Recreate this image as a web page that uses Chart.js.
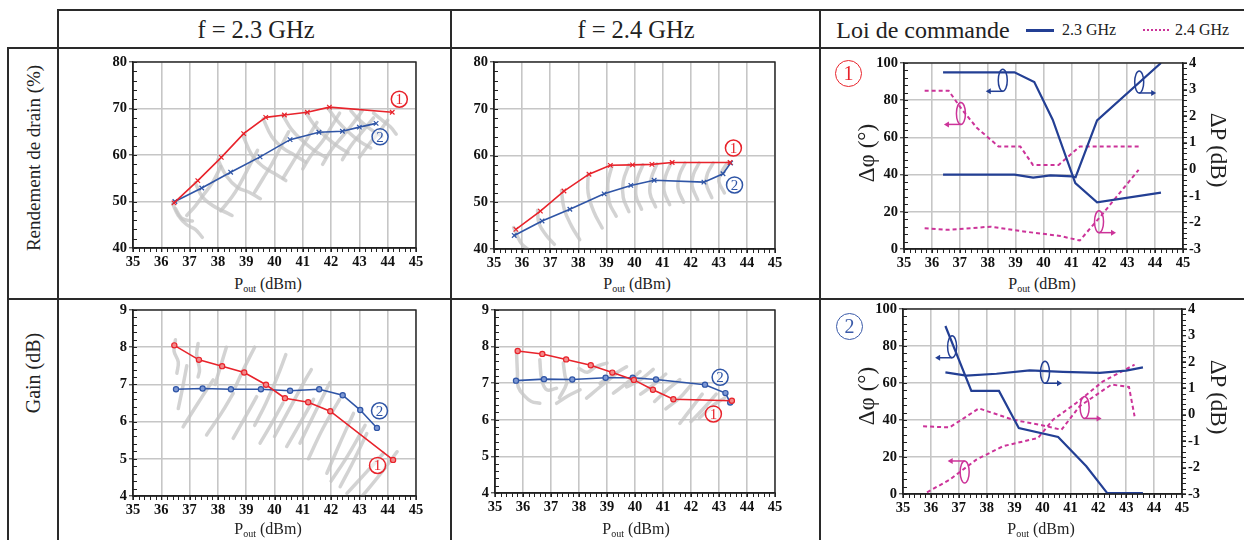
<!DOCTYPE html>
<html>
<head>
<meta charset="utf-8">
<script src="https://cdn.jsdelivr.net/npm/chart.js@4.4.1/dist/chart.umd.min.js"></script>
<style>
  html,body{margin:0;padding:0;background:#fff;}
  body{width:1244px;height:540px;position:relative;overflow:hidden;font-family:"Liberation Serif","Times New Roman",serif;color:#222;}
  .ln{position:absolute;background:#2a2a2a;}
  .txt{position:absolute;white-space:nowrap;transform:translate(-50%,-50%);line-height:1;}
  .rotL{transform:translate(-50%,-50%) rotate(-90deg);}
  .rotR{transform:translate(-50%,-50%) rotate(90deg);}
  .box{position:absolute;}
  .xt{font-size:16px;}
  .xt sub{font-size:10px;vertical-align:-3px;}
  .big{position:absolute;border-radius:50%;text-align:center;font-size:20px;line-height:25px;}
</style>
</head>
<body>
<!-- table lines -->
<div class="ln" style="left:57px;top:9px;width:1187px;height:2px"></div>
<div class="ln" style="left:7px;top:47px;width:1237px;height:2px"></div>
<div class="ln" style="left:7px;top:298px;width:1237px;height:2px"></div>
<div class="ln" style="left:7px;top:47px;width:2px;height:493px"></div>
<div class="ln" style="left:57px;top:9px;width:2px;height:531px"></div>
<div class="ln" style="left:450px;top:9px;width:2px;height:531px"></div>
<div class="ln" style="left:819px;top:9px;width:2px;height:531px"></div>

<!-- headers -->
<div class="txt" style="left:256px;top:30px;font-size:24.5px">f = 2.3 GHz</div>
<div class="txt" style="left:636px;top:30px;font-size:24.5px">f = 2.4 GHz</div>
<div class="txt" style="left:923px;top:30px;font-size:24px">Loi de commande</div>
<div class="ln" style="left:1026px;top:29px;width:28px;height:3px;background:#233f94"></div>
<div class="txt" style="left:1089px;top:30px;font-size:16px">2.3 GHz</div>
<div class="ln" style="left:1143px;top:29px;width:26px;height:0;border-top:2.5px dotted #cc3399;background:none"></div>
<div class="txt" style="left:1202px;top:30px;font-size:16px">2.4 GHz</div>

<!-- row labels -->
<div class="txt rotL" style="left:33px;top:158px;font-size:19px">Rendement de drain (%)</div>
<div class="txt rotL" style="left:33px;top:373px;font-size:20px">Gain (dB)</div>

<!-- chart boxes -->
<div class="box" id="b1"><canvas id="c1"></canvas></div>
<div class="box" id="b2"><canvas id="c2"></canvas></div>
<div class="box" id="b3"><canvas id="c3"></canvas></div>
<div class="box" id="b4"><canvas id="c4"></canvas></div>
<div class="box" id="b5"><canvas id="c5"></canvas></div>
<div class="box" id="b6"><canvas id="c6"></canvas></div>

<!-- axis titles -->
<div class="txt xt" style="left:268px;top:285px">P<sub>out</sub> (dBm)</div>
<div class="txt xt" style="left:637px;top:285px">P<sub>out</sub> (dBm)</div>
<div class="txt xt" style="left:1042px;top:285px">P<sub>out</sub> (dBm)</div>
<div class="txt xt" style="left:268px;top:530px">P<sub>out</sub> (dBm)</div>
<div class="txt xt" style="left:636px;top:530px">P<sub>out</sub> (dBm)</div>
<div class="txt xt" style="left:1041px;top:530px">P<sub>out</sub> (dBm)</div>

<div class="txt rotL" style="left:866px;top:153px;font-size:23px">Δφ (°)</div>
<div class="txt rotR" style="left:1218px;top:150px;font-size:23px">ΔP (dB)</div>
<div class="txt rotL" style="left:866px;top:396px;font-size:23px">Δφ (°)</div>
<div class="txt rotR" style="left:1218px;top:397px;font-size:23px">ΔP (dB)</div>

<div class="big" style="left:835px;top:60px;width:25px;height:25px;border:1.5px solid #e8232b;color:#e8232b">1</div>
<div class="big" style="left:836px;top:313px;width:25px;height:25px;border:1.5px solid #3a5aa8;color:#3a5aa8">2</div>

<script>
// ---------------- DATA ----------------
const xTickValues = [35,36,37,38,39,40,41,42,43,44,45];

// Rendement de drain, f = 2.3 GHz
const eta23RedX  = [36.45,37.29,38.12,38.91,39.69,40.35,41.16,41.94,44.16];
const eta23RedY  = [49.7,54.5,59.5,64.6,68.1,68.6,69.2,70.3,69.2];
const eta23BlueX = [36.48,37.43,38.45,39.49,40.55,41.57,42.40,43.00,43.59];
const eta23BlueY = [50.0,52.9,56.3,59.6,63.3,64.9,65.1,66.0,66.8];
const eta23Cloud = [
  [[36.4,49.5],[36.6,47],[36.9,45],[37.2,44],[37.45,42.3]],
  [[36.5,48.5],[36.7,46.5],[36.9,46],[37.1,45.8]],
  [[37.2,54],[37.45,51],[37.8,49.2],[38.1,48.2],[38.5,47]],
  [[36.9,47],[37.2,49],[37.5,51.5],[37.8,54],[38.1,57.5]],
  [[38.0,59],[38.3,55.5],[38.7,53],[39.1,52],[39.5,50.6]],
  [[38.1,48],[38.5,51],[38.8,54],[39.1,57.5],[39.4,61]],
  [[38.9,64],[39.2,60],[39.6,57.5],[40.0,56],[40.4,54.5]],
  [[39.3,52],[39.6,55],[39.9,58],[40.2,61.5],[40.5,65]],
  [[39.6,67.8],[39.9,64],[40.3,61.5],[40.7,60],[41.1,58.5]],
  [[40.3,55],[40.6,58],[40.9,61],[41.2,64],[41.5,67]],
  [[40.3,68.5],[40.6,65.5],[41.0,63],[41.4,61],[41.8,59.5]],
  [[41.0,57],[41.3,60],[41.7,63],[42.0,66],[42.3,69]],
  [[41.1,69.2],[41.4,66.5],[41.8,64],[42.2,62],[42.6,60.5]],
  [[41.7,58],[42.0,61],[42.4,64],[42.8,67],[43.1,69.5]],
  [[41.9,70],[42.2,67.5],[42.6,65],[43.0,63],[43.4,61.5]],
  [[42.4,59],[42.7,62],[43.1,65],[43.5,68]],
  [[42.7,69.5],[43.0,67.5],[43.4,65.5],[43.8,64]],
  [[43.5,69],[43.8,67.5],[44.1,66],[44.3,64.5]],
  [[43.0,59.5],[43.3,62],[43.7,65],[44.0,67.5]]
];

// Rendement de drain, f = 2.4 GHz
const eta24RedX  = [35.78,36.65,37.49,38.38,39.14,39.93,40.62,41.34,43.40];
const eta24RedY  = [44.2,48.1,52.4,56.0,57.9,58.0,58.1,58.5,58.5];
const eta24BlueX = [35.72,36.71,37.70,38.92,39.87,40.70,42.47,43.15,43.42];
const eta24BlueY = [42.9,46.0,48.5,51.8,53.6,54.7,54.3,56.1,58.4];
const eta24Cloud = [
  [[35.7,44.6],[35.85,42.5],[36.0,41],[36.2,40]],
  [[36.55,48.3],[36.6,45.5],[36.85,43],[37.15,41]],
  [[37.4,52.5],[37.5,48.5],[37.75,45],[38.05,42]],
  [[38.35,56],[38.35,52],[38.55,48],[38.85,44.5]],
  [[39.2,57.8],[39.05,54],[39.1,50],[39.35,47]],
  [[39.8,58],[39.6,54.5],[39.6,51],[39.8,48]],
  [[40.3,58],[40.1,55],[40.05,51.5],[40.25,48.5]],
  [[40.8,58.2],[40.6,55.2],[40.55,52],[40.75,49]],
  [[41.3,58.4],[41.1,55.5],[41.05,52.5],[41.25,49.5]],
  [[41.8,58.4],[41.6,55.8],[41.55,53],[41.75,50]],
  [[42.3,58.4],[42.1,56],[42.05,53.5],[42.25,50.5]],
  [[42.8,58.4],[42.6,56.2],[42.55,54],[42.75,51]],
  [[43.3,58.4],[43.1,56.5],[43.0,54.5],[43.2,52]]
];

// Gain, f = 2.3 GHz
const gain23RedX  = [36.46,37.33,38.15,38.93,39.70,40.37,41.19,41.97,44.19];
const gain23RedY  = [8.05,7.66,7.49,7.32,6.99,6.63,6.52,6.28,4.97];
const gain23BlueX = [36.52,37.46,38.46,39.52,40.55,41.58,42.41,43.03,43.62];
const gain23BlueY = [6.87,6.89,6.87,6.87,6.83,6.87,6.71,6.31,5.83];
const gain23Cloud = [
  [[36.5,8.2],[36.45,7.9],[36.6,7.6],[36.55,7.3]],
  [[36.6,6.35],[36.75,6.9],[36.9,7.5]],
  [[36.77,5.86],[37.3,6.5],[37.83,7.12]],
  [[37.3,8.1],[37.25,7.8],[37.35,7.4],[37.3,7.2]],
  [[37.6,5.64],[38.1,6.2],[38.54,6.76]],
  [[37.9,7.0],[38.1,7.5],[38.3,8.0]],
  [[38.54,5.55],[38.95,6.1],[39.37,6.67]],
  [[38.6,6.9],[38.9,7.4],[39.3,8.0]],
  [[39.3,5.9],[39.7,6.5],[40.1,7.2],[40.4,7.8]],
  [[39.49,5.42],[39.9,5.95],[40.3,6.5]],
  [[40.0,5.6],[40.5,6.3],[41.0,7.0],[41.3,7.4]],
  [[40.43,5.33],[40.9,5.95],[41.38,6.6]],
  [[40.9,5.42],[41.4,6.2],[41.96,7.05]],
  [[41.2,5.0],[41.7,5.8],[42.3,6.6]],
  [[41.85,4.61],[42.3,5.4],[42.79,6.22]],
  [[42.0,4.4],[42.6,5.1],[43.2,5.9]],
  [[42.32,4.25],[42.8,4.95],[43.26,5.68]],
  [[42.56,4.07],[43.2,4.6],[43.85,5.15]],
  [[43.1,4.0],[43.7,4.55],[44.33,5.19]]
];

// Gain, f = 2.4 GHz
const gain24RedX  = [35.81,36.69,37.54,38.42,39.19,39.96,40.64,41.37,43.46];
const gain24RedY  = [7.88,7.80,7.65,7.49,7.29,7.09,6.82,6.56,6.52];
const gain24BlueX = [35.75,36.75,37.76,38.95,39.92,40.75,42.50,43.23,43.40];
const gain24BlueY = [7.07,7.11,7.10,7.15,7.15,7.10,6.96,6.73,6.47];
const gain24Cloud = [
  [[35.77,7.82],[35.8,7.3],[35.83,6.9],[36.07,6.64],[36.3,6.5],[36.6,6.45]],
  [[36.6,7.64],[36.67,7.09],[36.85,6.82],[37.2,6.86]],
  [[37.44,7.55],[37.5,7.2],[37.56,7.0],[37.3,6.6]],
  [[37.2,6.45],[37.6,6.65],[38.04,6.82]],
  [[38.0,7.4],[38.3,7.3],[38.6,7.45],[39.0,7.55]],
  [[38.27,6.59],[38.8,6.93],[39.35,7.27]],
  [[38.75,7.0],[39.2,7.22],[39.7,7.45]],
  [[39.23,6.73],[39.7,7.0],[40.18,7.32]],
  [[39.7,6.9],[40.2,7.1],[40.65,7.38]],
  [[40.2,6.7],[40.7,6.98],[41.1,7.25]],
  [[40.7,6.5],[41.2,6.85],[41.6,7.1]],
  [[41.1,6.3],[41.6,6.6],[42.0,6.95]],
  [[41.6,5.9],[42.0,6.3],[42.4,6.7]],
  [[42.0,5.95],[42.5,6.35],[42.9,6.7]],
  [[42.3,6.05],[42.8,6.4],[43.2,6.6]]
];

// Loi de commande 1
const law1Phi23X = [36.40,38.96,39.67,40.33,41.14,41.92,44.21];
const law1Phi23Y = [95,95,89.8,69.5,35.4,25.1,30.3];
const law1Dp23X  = [36.40,38.96,39.63,40.25,41.03,41.15,41.92,44.21];
const law1Dp23Y  = [-0.2,-0.2,-0.31,-0.23,-0.27,-0.3,1.84,4.0];
const law1Phi24X = [35.74,36.60,37.08,37.62,38.39,39.17,39.62,40.54,41.30,43.41];
const law1Phi24Y = [85.1,85.1,74.9,65,55.1,55.1,45.2,45.2,55.1,55.1];
const law1Dp24X  = [35.74,36.60,38.09,39.29,40.60,41.30,42.04,43.41];
const law1Dp24Y  = [-2.22,-2.28,-2.16,-2.34,-2.51,-2.68,-1.78,-0.02];

// Loi de commande 2
const law2Phi23X = [36.52,37.45,38.44,39.15,40.56,41.57,42.32,43.60];
const law2Phi23Y = [90.8,55.7,55.7,35.7,30.8,15.0,0.5,0.5];
const law2Dp23X  = [36.52,37.27,38.35,39.54,40.73,42.05,43.00,43.60];
const law2Dp23Y  = [1.60,1.48,1.55,1.68,1.62,1.58,1.67,1.79];
const law2Phi24X = [35.86,36.67,37.63,38.58,39.84,40.38,41.21,42.17,43.30];
const law2Phi24Y = [0.9,7.7,18.6,25.8,30.3,40.2,49.2,60.9,69.9];
const law2Dp24X  = [35.72,36.67,37.72,38.94,39.90,40.68,41.33,42.47,43.10,43.30];
const law2Dp24Y  = [-0.44,-0.48,0.24,-0.19,-0.38,-0.57,0.32,1.14,1.05,-0.06];

// ---------------- STYLE ----------------
const RED = '#e8232b', BLUE = '#2f55a6', NAVY = '#233f94', MAG = '#cc3399';
const GREY = 'rgba(196,196,196,0.75)';
const FONT = '"Liberation Serif","Times New Roman",serif';

const pts = (xs, ys) => xs.map((x, i) => ({x, y: ys[i]}));
const cloudSets = (cloud) => cloud.map(seg => ({
  data: seg.map(p => ({x: p[0], y: p[1]})),
  borderColor: GREY, borderWidth: 3.5, pointRadius: 0, tension: 0.4,
  borderCapStyle: 'round', order: 10, yAxisID: 'y'
}));

// decoration plugin: frame, minor ticks, circled labels, ellipse markers
const deco = {
  id: 'deco',
  afterDraw(chart, args, o) {
    const {ctx, chartArea: a, scales} = chart;
    ctx.save();
    ctx.strokeStyle = '#222';
    ctx.lineWidth = 1.4;
    ctx.strokeRect(a.left, a.top, a.right - a.left, a.bottom - a.top);
    ctx.lineWidth = 1;
    const x = scales.x;
    for (let i = 0; i <= (x.max - x.min) / o.xMinor + 1e-6; i++) {
      const px = Math.round(x.getPixelForValue(x.min + i * o.xMinor)) + 0.5;
      ctx.beginPath(); ctx.moveTo(px, a.bottom); ctx.lineTo(px, a.bottom + 4); ctx.stroke();
    }
    const y = scales.y;
    for (let i = 0; i <= (y.max - y.min) / o.yMinor + 1e-6; i++) {
      const py = Math.round(y.getPixelForValue(y.min + i * o.yMinor)) + 0.5;
      ctx.beginPath(); ctx.moveTo(a.left, py); ctx.lineTo(a.left + 4, py); ctx.stroke();
    }
    if (scales.y2) {
      const y2 = scales.y2;
      for (let i = 0; i <= (y2.max - y2.min) / o.y2Minor + 1e-6; i++) {
        const py = Math.round(y2.getPixelForValue(y2.min + i * o.y2Minor)) + 0.5;
        ctx.beginPath(); ctx.moveTo(a.right, py); ctx.lineTo(a.right + 4, py); ctx.stroke();
      }
    }
    (o.marks || []).forEach(m => {
      const px = x.getPixelForValue(m.x), py = y.getPixelForValue(m.y);
      ctx.strokeStyle = m.color; ctx.fillStyle = 'rgba(255,255,255,0.6)'; ctx.lineWidth = 1.5;
      ctx.beginPath(); ctx.arc(px, py, 8, 0, Math.PI * 2); ctx.fill(); ctx.stroke();
      ctx.fillStyle = m.color; ctx.font = '15px ' + FONT;
      ctx.textAlign = 'center'; ctx.textBaseline = 'middle';
      ctx.fillText(m.t, px, py + 1);
    });
    (o.ellipses || []).forEach(e => {
      const px = x.getPixelForValue(e.x), py = y.getPixelForValue(e.y);
      ctx.strokeStyle = e.color; ctx.fillStyle = e.color; ctx.lineWidth = 1.5;
      ctx.beginPath(); ctx.ellipse(px, py, 4.5, 11, 0, 0, Math.PI * 2); ctx.stroke();
      const ay = e.at === 'top' ? py - 11 : py + 11;
      const dir = e.dir === 'left' ? -1 : 1;
      const ex = px + dir * 17;
      ctx.beginPath(); ctx.moveTo(px, ay); ctx.lineTo(ex - dir * 4, ay); ctx.stroke();
      ctx.beginPath(); ctx.moveTo(ex, ay); ctx.lineTo(ex - dir * 5, ay - 3); ctx.lineTo(ex - dir * 5, ay + 3); ctx.closePath(); ctx.fill();
    });
    ctx.restore();
  }
};

function axis(min, max, step, pos, gridOn) {
  return {
    type: 'linear', position: pos, min, max,
    ticks: {stepSize: step, autoSkip: false, maxRotation: 0, padding: 2, color: '#111',
            font: {family: FONT, size: 14.5, weight: 'bold'}},
    grid: {display: true, drawOnChartArea: gridOn, color: '#c6c6c6', lineWidth: 1.6,
           tickColor: '#222', tickLength: 4, tickWidth: 1},
    border: {display: true, color: '#222', width: 1.4}
  };
}

function makeChart(id, rect, cfg) {
  const dual = !!cfg.y2;
  const rm = dual ? 45 : 15;
  const box = document.getElementById('b' + id);
  box.style.left = (rect[0] - 45) + 'px';
  box.style.top = (rect[1] - 12) + 'px';
  box.style.width = (rect[2] - rect[0] + 45 + rm) + 'px';
  box.style.height = (rect[3] - rect[1] + 12 + 26) + 'px';
  const xs = axis(35, 45, 1, 'bottom', true);
  xs.afterFit = s => { s.height = 26; };
  const ys = axis(cfg.y[0], cfg.y[1], cfg.y[2], 'left', true);
  ys.afterFit = s => { s.width = 45; };
  const scales = {x: xs, y: ys};
  if (dual) {
    const y2 = axis(cfg.y2[0], cfg.y2[1], cfg.y2[2], 'right', false);
    y2.afterFit = s => { s.width = 45; };
    scales.y2 = y2;
  }
  new Chart(document.getElementById('c' + id), {
    type: 'line',
    data: {datasets: cfg.datasets},
    options: {
      responsive: true, maintainAspectRatio: false, animation: false,
      layout: {padding: {left: 0, right: dual ? 0 : 15, top: 12, bottom: 0}},
      scales,
      plugins: {legend: {display: false}, tooltip: {enabled: false}, deco: cfg.deco}
    },
    plugins: [deco]
  });
}

const mainLine = (xs, ys, color, style) => ({
  data: pts(xs, ys), borderColor: color, borderWidth: 1.6, tension: 0,
  pointStyle: style, pointRadius: style === 'circle' ? 2.6 : 3.2, pointBorderWidth: 1.2,
  pointBorderColor: color,
  pointBackgroundColor: style === 'circle' ? (color === RED ? '#f38a8a' : '#7d98d4') : color,
  order: 1, yAxisID: 'y'
});

const lawLine = (xs, ys, color, axisId, dashed) => ({
  data: pts(xs, ys), borderColor: color, borderWidth: dashed ? 2 : 2.2,
  borderDash: dashed ? [4, 3] : [], pointRadius: 0, tension: 0, yAxisID: axisId, order: 1
});

// Chart 1
makeChart(1, [133, 62, 416, 248], {
  y: [40, 80, 10],
  datasets: [mainLine(eta23RedX, eta23RedY, RED, 'crossRot'), mainLine(eta23BlueX, eta23BlueY, BLUE, 'crossRot'), ...cloudSets(eta23Cloud)],
  deco: {xMinor: 0.2, yMinor: 2, marks: [{x: 44.41, y: 72.0, t: '1', color: RED}, {x: 43.73, y: 63.9, t: '2', color: BLUE}]}
});
// Chart 2
makeChart(2, [494, 62, 775, 249], {
  y: [40, 80, 10],
  datasets: [mainLine(eta24RedX, eta24RedY, RED, 'crossRot'), mainLine(eta24BlueX, eta24BlueY, BLUE, 'crossRot'), ...cloudSets(eta24Cloud)],
  deco: {xMinor: 0.2, yMinor: 2, marks: [{x: 43.52, y: 61.6, t: '1', color: RED}, {x: 43.56, y: 53.7, t: '2', color: BLUE}]}
});
// Chart 3
makeChart(3, [904, 63, 1183, 249], {
  y: [0, 100, 20], y2: [-3, 4, 1],
  datasets: [
    lawLine(law1Phi23X, law1Phi23Y, NAVY, 'y', false),
    lawLine(law1Dp23X, law1Dp23Y, NAVY, 'y2', false),
    lawLine(law1Phi24X, law1Phi24Y, MAG, 'y', true),
    lawLine(law1Dp24X, law1Dp24Y, MAG, 'y2', true)
  ],
  deco: {xMinor: 0.2, yMinor: 4, y2Minor: 0.2, ellipses: [
    {x: 38.54, y: 90.7, color: NAVY, dir: 'left', at: 'bottom'},
    {x: 43.43, y: 89.8, color: NAVY, dir: 'right', at: 'bottom'},
    {x: 37.04, y: 72.9, color: MAG, dir: 'left', at: 'bottom'},
    {x: 41.99, y: 14.7, color: MAG, dir: 'right', at: 'bottom'}
  ]}
});
// Chart 4
makeChart(4, [133, 310, 416, 496], {
  y: [4, 9, 1],
  datasets: [mainLine(gain23RedX, gain23RedY, RED, 'circle'), mainLine(gain23BlueX, gain23BlueY, BLUE, 'circle'), ...cloudSets(gain23Cloud)],
  deco: {xMinor: 0.2, yMinor: 0.2, marks: [{x: 43.71, y: 6.29, t: '2', color: BLUE}, {x: 43.64, y: 4.82, t: '1', color: RED}]}
});
// Chart 5
makeChart(5, [495, 310, 775, 493], {
  y: [4, 9, 1],
  datasets: [mainLine(gain24RedX, gain24RedY, RED, 'circle'), mainLine(gain24BlueX, gain24BlueY, BLUE, 'circle'), ...cloudSets(gain24Cloud)],
  deco: {xMinor: 0.2, yMinor: 0.2, marks: [{x: 43.04, y: 7.16, t: '2', color: BLUE}, {x: 42.8, y: 6.16, t: '1', color: RED}]}
});
// Chart 6
makeChart(6, [903, 309, 1182, 494], {
  y: [0, 100, 20], y2: [-3, 4, 1],
  datasets: [
    lawLine(law2Phi23X, law2Phi23Y, NAVY, 'y', false),
    lawLine(law2Dp23X, law2Dp23Y, NAVY, 'y2', false),
    lawLine(law2Phi24X, law2Phi24Y, MAG, 'y', true),
    lawLine(law2Dp24X, law2Dp24Y, MAG, 'y2', true)
  ],
  deco: {xMinor: 0.2, yMinor: 4, y2Minor: 0.2, ellipses: [
    {x: 36.76, y: 79.6, color: NAVY, dir: 'left', at: 'bottom'},
    {x: 40.09, y: 65.8, color: NAVY, dir: 'right', at: 'bottom'},
    {x: 41.51, y: 46.8, color: MAG, dir: 'right', at: 'bottom'},
    {x: 37.21, y: 11.9, color: MAG, dir: 'left', at: 'top'}
  ]}
});
</script>
</body>
</html>
